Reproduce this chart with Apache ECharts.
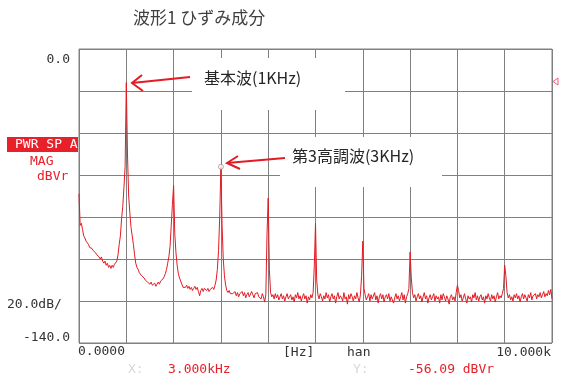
<!DOCTYPE html>
<html>
<head>
<meta charset="utf-8">
<script src="https://cdn.jsdelivr.net/npm/echarts@6/dist/echarts.min.js"></script>
<style>
html,body{margin:0;padding:0;background:#fff;}
#chart{width:567px;height:386px;}
</style>
</head>
<body>
<div id="chart"></div>
<script>
// ---- data ----
const chartTitle = '波形1 ひずみ成分';
const freqStepHz = 25;            // spectrum line spacing
const xRange = [0, 10000];        // Hz
const yRange = [-140, 0];         // dBVr
const xIntervalHz = 1000;
const yIntervalDb = 20;
// magnitude (dBVr) per spectrum line, 0 Hz .. 10 kHz
const spectrumDb = [
  -69, -84, -83, -86, -89, -90, -91.5, -92, -93, -94.5,
  -94, -95, -96, -95.5, -97, -98, -97.5, -99, -100, -99,
  -101, -102, -101, -103, -102, -104, -103, -104.5, -103, -104,
  -102.5, -103, -101, -98, -93, -89, -81, -75, -66, -56,
  -16, -50, -70, -78, -85, -89, -93, -98, -102, -104,
  -105, -106.5, -107, -108, -107.5, -109, -110, -109.5, -111, -110.5,
  -112, -111, -112.5, -113, -111.5, -113, -112, -111, -112, -110.5,
  -111, -109.5, -108.5, -107, -105, -102, -99, -94, -84, -74,
  -65, -88, -97, -103, -107, -109, -110.5, -112, -113.5, -113,
  -113.5, -112.5, -114, -113, -114.5, -113.5, -115, -114, -113, -114.5,
  -113.5, -115.5, -117.5, -115, -114, -115.5, -114, -113.5, -115, -114,
  -115.5, -114.5, -115, -113.5, -114.5, -112.5, -110, -105, -96, -80,
  -56.09, -84, -100, -108, -112.5, -115, -116, -115, -116.5, -116,
  -116.5, -117, -115.5, -117.5, -116, -118, -116.5, -117, -115.5, -117.5,
  -116, -118.5, -117, -116, -118, -117.5, -115.5, -117, -118.5, -116.5,
  -117, -116, -118, -117.5, -119, -116.5, -118, -120.5, -117, -88,
  -71, -105, -116, -118, -117, -119, -116.5, -118.5, -117, -119.5,
  -118, -116.5, -119, -117.5, -120, -118, -116.5, -119, -118.5, -117,
  -119.5, -118, -120.5, -117, -118.5, -116, -119, -117.5, -120, -118,
  -116.5, -119, -117.5, -121, -118, -119.5, -117, -118.5, -116, -103,
  -83, -110, -117, -119, -116.5, -118, -120, -117.5, -119, -116,
  -118.5, -117, -120.5, -118, -116.5, -119, -117.5, -121, -118, -116,
  -119, -117.5, -118.5, -120, -116, -119, -118, -121.5, -117, -119,
  -116.5, -118, -120, -117.5, -119, -116, -118.5, -120.5, -117, -108,
  -91.5, -114, -117, -119.5, -118, -116.5, -120, -117, -119, -118.5,
  -116, -119.5, -117.5, -121, -118, -116.5, -119, -117, -120.5, -118,
  -117, -119, -116.5, -120, -118, -117.5, -121, -118.5, -116.5, -119,
  -117.5, -120, -118, -116, -119.5, -117, -121, -118, -116.5, -114,
  -96.7, -109, -116, -118.5, -117, -120, -118, -116.5, -119, -117.5,
  -120.5, -118, -116, -119, -117.5, -121, -118.5, -117, -119.5, -118,
  -116.5, -120, -117.5, -119, -118, -121, -117, -119.5, -116.5, -118,
  -120, -117.5, -119, -121.5, -118, -117, -119.5, -118, -120, -116,
  -112.5, -115, -118.5, -117, -120, -118.5, -116.5, -119, -121, -117.5,
  -119, -118, -120.5, -117, -118.5, -116, -119.5, -117.5, -120, -118,
  -117, -119.5, -118, -121, -117.5, -119, -116.5, -118.5, -120, -117,
  -119, -117.5, -120.5, -118, -116, -119, -117.5, -118.5, -116.5, -114,
  -103, -108, -116, -118.5, -117, -119.5, -118, -120, -117, -118.5,
  -116.5, -119, -117.5, -120.5, -118, -116.5, -119, -117, -118.5, -120,
  -117, -118.5, -116, -119.5, -117.5, -118, -116.5, -119, -117, -118,
  -116, -118.5, -117, -115.5, -118, -116.5, -117.5, -115, -117, -114.5,
  -119
];
const cursorPoint = [3000, -56.09];
const yTickLabels = ['0.0', '-140.0'];
const xTickLabels = ['0.0000', '10.000k'];
const scaleLabel = '20.0dB/';
const traceLabels = ['PWR SP A', 'MAG', 'dBVr'];
const footerLabels = ['[Hz]', 'han'];
const cursorLabels = ['X:', '3.000kHz', 'Y:', '-56.09 dBVr'];
const annotations = ['基本波(1KHz)', '第3高調波(3KHz)'];

// ---- chart ----
const RED = '#e31b23';
const MONO = '13px "DejaVu Sans Mono", "Liberation Mono", monospace';
const JP = '16px "Noto Sans CJK JP", sans-serif';
const JP_TITLE = '17px "Noto Sans CJK JP", sans-serif';

const seriesData = spectrumDb.map((v, i) => [i * freqStepHz, v]);

function txt(text, x, y, align, font, fill, extra) {
  return Object.assign({
    type: 'text', z: 60,
    style: { text, x, y, font, fill, align, verticalAlign: 'middle',
             textAlign: align, textVerticalAlign: 'middle' }
  }, extra || {});
}

const chart = echarts.init(document.getElementById('chart'), null, { renderer: 'canvas' });
chart.setOption({
  animation: false,
  backgroundColor: '#ffffff',
  grid: { left: 79, top: 49, width: 473, height: 294, show: true,
          borderColor: '#808080', borderWidth: 1, backgroundColor: 'transparent' },
  xAxis: {
    type: 'value', min: xRange[0], max: xRange[1], interval: xIntervalHz,
    axisLine: { show: false }, axisTick: { show: false }, axisLabel: { show: false },
    splitLine: { show: true, lineStyle: { color: '#808080', width: 1 } }
  },
  yAxis: {
    type: 'value', min: yRange[0], max: yRange[1], interval: yIntervalDb,
    axisLine: { show: false }, axisTick: { show: false }, axisLabel: { show: false },
    splitLine: { show: true, lineStyle: { color: '#808080', width: 1 } }
  },
  series: [
    { type: 'line', data: seriesData, symbol: 'none', showSymbol: false,
      lineStyle: { color: RED, width: 1 }, z: 3, silent: true },
    { type: 'scatter', data: [cursorPoint], symbol: 'circle', symbolSize: 5,
      itemStyle: { color: '#ffffff', borderColor: '#999999', borderWidth: 1 }, z: 5, silent: true }
  ],
  graphic: [
    // white annotation backgrounds
    { type: 'rect', z: 50, shape: { x: 192, y: 58, width: 153, height: 52 }, style: { fill: '#ffffff' } },
    { type: 'rect', z: 50, shape: { x: 280, y: 137, width: 162, height: 50 }, style: { fill: '#ffffff' } },
    // arrows
    { type: 'line', z: 60, shape: { x1: 190, y1: 77, x2: 132, y2: 83 }, style: { stroke: RED, lineWidth: 2 } },
    { type: 'polyline', z: 60, shape: { points: [[142, 75], [132, 83], [143, 91]] }, style: { stroke: RED, lineWidth: 2, fill: null } },
    { type: 'line', z: 60, shape: { x1: 285, y1: 158, x2: 227, y2: 163 }, style: { stroke: RED, lineWidth: 2 } },
    { type: 'polyline', z: 60, shape: { points: [[238, 156], [227, 163], [240, 169]] }, style: { stroke: RED, lineWidth: 2, fill: null } },
    txt(annotations[0], 204, 78, 'left', JP, '#262626'),
    txt(annotations[1], 292, 156, 'left', JP, '#262626'),
    // title
    txt(chartTitle, 133, 18, 'left', JP_TITLE, '#404040'),
    // left labels
    txt(yTickLabels[0], 70, 60, 'right', MONO, '#333333'),
    { type: 'rect', z: 55, shape: { x: 7, y: 137, width: 71, height: 15 }, style: { fill: '#e8202a' } },
    txt(traceLabels[0], 15, 145, 'left', MONO, '#ffffff'),
    txt(traceLabels[1], 30, 162, 'left', MONO, '#e8202a'),
    txt(traceLabels[2], 37, 177, 'left', MONO, '#e8202a'),
    txt(scaleLabel, 7, 305, 'left', MONO, '#333333'),
    txt(yTickLabels[1], 70, 338, 'right', MONO, '#333333'),
    // bottom labels
    txt(xTickLabels[0], 78, 352, 'left', MONO, '#333333'),
    txt(footerLabels[0], 283, 353, 'left', MONO, '#333333'),
    txt(footerLabels[1], 347, 353, 'left', MONO, '#333333'),
    txt(xTickLabels[1], 551, 353, 'right', MONO, '#333333'),
    txt(cursorLabels[0], 128, 370, 'left', MONO, '#d8d8d8'),
    txt(cursorLabels[1], 168, 370, 'left', MONO, '#e8202a'),
    txt(cursorLabels[2], 353, 370, 'left', MONO, '#d8d8d8'),
    txt(cursorLabels[3], 408, 370, 'left', MONO, '#e8202a'),
    // reference level marker
    { type: 'polygon', z: 60, shape: { points: [[553, 81.5], [558, 78], [558, 85]] },
      style: { fill: '#ffffff', stroke: '#f06080', lineWidth: 1 } }
  ]
});
</script>
</body>
</html>
